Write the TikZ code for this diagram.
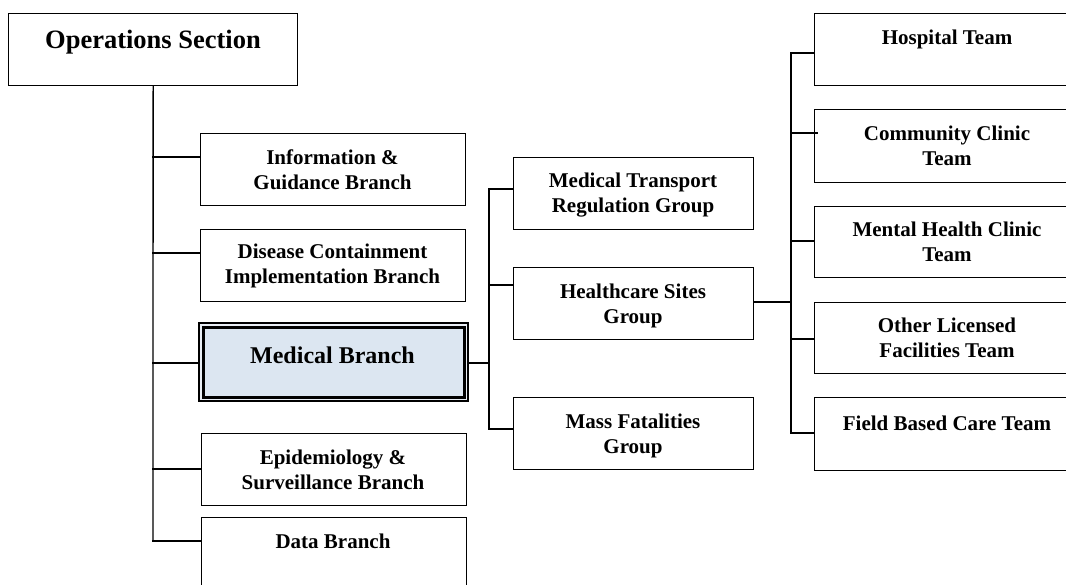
\documentclass[tikz,border=0pt]{standalone}
\usepackage{fontspec}
\setmainfont{Liberation Serif}
\begin{document}
\begin{tikzpicture}[x=1pt,y=-1pt,
  box/.style={draw=black, line width=1.3pt, rectangle, inner sep=0pt, anchor=north west, minimum width=265pt, minimum height=72pt},
  txt/.style={align=center, inner sep=0pt, font=\fontsize{21}{25}\selectfont\bfseries},
  conn/.style={line width=1.3pt, line cap=rect}
]
\definecolor{medfill}{HTML}{DCE6F1}
\definecolor{medgap}{HTML}{E9EEF5}
\useasboundingbox (0,0) rectangle (1066,585);
\clip (0,0) rectangle (1066,585);

% Operations Section
\node[box, minimum width=289pt, minimum height=72pt] (ops) at (8,13) {};
\node[txt, font=\fontsize{26.5}{30}\selectfont\bfseries] (opst) at (153,42.5) {Operations Section};

% left column
\node[box] (info) at (200,133) {};
\node[txt] (infot) at (332.5,170) {Information \&\\Guidance Branch};
\draw[line width=1.8pt] (393,205.6) -- (417,205.6);
\node[box] (dis) at (200,229) {};
\node[txt] (dist) at (332.5,266) {Disease Containment\\Implementation Branch};

% Medical branch (double border)
\node[draw=black, line width=2pt, fill=medgap, rectangle, inner sep=0pt, anchor=north west, minimum width=269pt, minimum height=78pt] (medo) at (198,322) {};
\node[draw=black, line width=3pt, fill=medfill, rectangle, inner sep=0pt, anchor=north west, minimum width=261pt, minimum height=70pt] (med) at (202,326) {};
\node[txt, font=\fontsize{24}{28}\selectfont\bfseries] (medt) at (332.5,355) {Medical Branch};

\node[box] (epi) at (201,433) {};
\node[txt] (epit) at (333,470) {Epidemiology \&\\Surveillance Branch};
\node[box, minimum height=90pt] (data) at (201,517) {};
\node[txt] (datat) at (333,541) {Data Branch};

% middle column
\node[box, minimum width=240pt] (mtr) at (513,157) {};
\node[txt] (mtrt) at (633,195.5) {Medical Transport\\Regulation Group};
\node[box, minimum width=240pt] (hc) at (513,267) {};
\node[txt] (hct) at (633,305.5) {Healthcare Sites\\Group};
\node[box, minimum width=240pt] (mass) at (513,397) {};
\node[txt] (masst) at (633,435.5) {Mass Fatalities\\Group};

% right column
\node[box, minimum width=266pt] (hosp) at (814,13) {};
\node[txt] (hospt) at (947,39.5) {Hospital Team};
\node[box, minimum width=266pt, minimum height=73pt] (comm) at (814,109) {};
\node[txt] (commt) at (947,146) {Community Clinic\\Team};
\node[box, minimum width=266pt, minimum height=71pt] (ment) at (814,206) {};
\node[txt] (mentt) at (947,242) {Mental Health Clinic\\Team};
\node[box, minimum width=266pt, minimum height=71pt] (oth) at (814,302) {};
\node[txt] (otht) at (947,337.5) {Other Licensed\\Facilities Team};
\node[box, minimum width=266pt, minimum height=73pt] (field) at (814,397) {};
\node[txt] (fieldt) at (947,423) {Field Based Care Team};

% trunk from Operations
\coordinate (t1) at (153,157);
\coordinate (t2) at (153,253);
\coordinate (t3) at (153,363);
\coordinate (t4) at (153,469);
\coordinate (t5) at (153,541);
\draw[conn] (ops.south) -- (t5);
\draw[conn] (t1) -- (t1 -| info.west);
\draw[conn] (t2) -- (t2 -| dis.west);
\draw[conn] (t3) -- (t3 -| medo.west);
\draw[conn] (t4) -- (t4 -| epi.west);
\draw[conn] (t5) -- (t5 -| data.west);

% Medical branch to groups
\coordinate (m0) at (489,363);
\coordinate (m1) at (489,189);
\coordinate (m2) at (489,285);
\coordinate (m3) at (489,429);
\draw[conn] (medo.east |- m0) -- (m0);
\draw[conn] (m1) -- (m3);
\draw[conn] (m1) -- (m1 -| mtr.west);
\draw[conn] (m2) -- (m2 -| hc.west);
\draw[conn] (m3) -- (m3 -| mass.west);

% Healthcare sites to teams
\coordinate (h0) at (791,302);
\coordinate (h1) at (791,53);
\coordinate (h2) at (791,133);
\coordinate (h3) at (791,241);
\coordinate (h4) at (791,339);
\coordinate (h5) at (791,433);
\draw[conn] (hc.east |- h0) -- (h0);
\draw[conn] (h1) -- (h5);
\draw[conn] (h1) -- (h1 -| hosp.west);
\draw[conn] (h2) -- ([xshift=3pt]h2 -| comm.west);
\draw[conn] (h3) -- (h3 -| ment.west);
\draw[conn] (h4) -- (h4 -| oth.west);
\draw[conn] (h5) -- (h5 -| field.west);
\end{tikzpicture}
\end{document}
